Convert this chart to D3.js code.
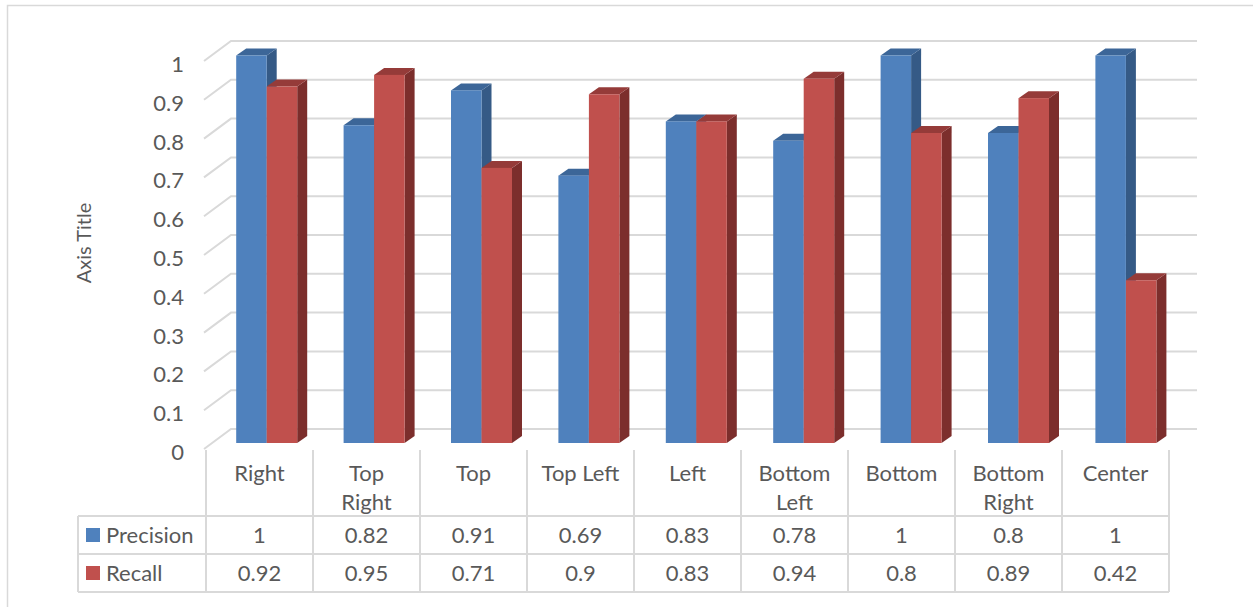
<!DOCTYPE html>
<html>
<head>
<meta charset="utf-8">
<script src="https://cdn.jsdelivr.net/npm/d3@7"></script>
<style>
  html, body { margin: 0; padding: 0; background: #ffffff; }
  svg { display: block; font-family: Lato, "Open Sans", sans-serif; }
</style>
</head>
<body>
<svg id="chart" width="1253" height="607"></svg>
<script>
// Category names (table header rows) and the two measured series
const categories = ["Right", "Top Right", "Top", "Top Left", "Left", "Bottom Left", "Bottom", "Bottom Right", "Center"];
const categoryLines = [["Right"], ["Top", "Right"], ["Top"], ["Top Left"], ["Left"], ["Bottom", "Left"], ["Bottom"], ["Bottom", "Right"], ["Center"]];
const precision = [1, 0.82, 0.91, 0.69, 0.83, 0.78, 1, 0.8, 1];
const recall = [0.92, 0.95, 0.71, 0.9, 0.83, 0.94, 0.8, 0.89, 0.42];
const precisionLabels = ["1", "0.82", "0.91", "0.69", "0.83", "0.78", "1", "0.8", "1"];
const recallLabels = ["0.92", "0.95", "0.71", "0.9", "0.83", "0.94", "0.8", "0.89", "0.42"];
const seriesNames = ["Precision", "Recall"];
const yTicks = [0, 0.1, 0.2, 0.3, 0.4, 0.5, 0.6, 0.7, 0.8, 0.9, 1];
const yTickLabels = ["0", "0.1", "0.2", "0.3", "0.4", "0.5", "0.6", "0.7", "0.8", "0.9", "1"];
const axisTitle = "Axis Title";

const textColor = "#595959";
const lineColor = "#D9D9D9";
const faces = {
  Precision: { front: "#4F81BD", top: "#3C6698", side: "#355A86" },
  Recall:    { front: "#C0504D", top: "#953B39", side: "#7C2E2C" }
};

const svg = d3.select("#chart");

// Chart area border (left and top edges visible)
svg.append("path")
  .attr("d", "M7.5,607 L7.5,5.5 L1253,5.5")
  .attr("fill", "none").attr("stroke", lineColor).attr("stroke-width", 1.5);

// Scales: back wall, bar front plane, and table columns
const yBack = d3.scaleLinear().domain([0, 1]).range([429, 41]);
const yBar = d3.scaleLinear().domain([0, 1]).range([443, 55.5]);
const xBar = d3.scaleBand().domain(categories).range([213, 1179.6]);
const xTable = d3.scaleBand().domain(categories).range([206, 1169]);
const depthX = 10, depthY = -7;   // bar depth projection
const wallX0 = 204, wallX1 = 231, wallX2 = 1197, wallDY = 20;

// Gridlines: side-wall diagonal plus back-wall horizontal
const grid = svg.append("g");
yTicks.forEach(v => {
  const yb = yBack(v);
  grid.append("path")
    .attr("d", `M${wallX0},${yb + wallDY} L${wallX1},${yb} L${wallX2},${yb}`)
    .attr("fill", "none").attr("stroke", lineColor).attr("stroke-width", 2);
});

// Tick labels on the front edge of the side wall
svg.append("g").selectAll("text").data(yTicks).join("text")
  .attr("x", 184)
  .attr("y", (d) => yBack(d) + wallDY + 11)
  .attr("text-anchor", "end")
  .attr("font-size", 22)
  .attr("fill", textColor)
  .text((d, i) => yTickLabels[i]);

// Axis title
svg.append("text")
  .attr("transform", "translate(91,243) rotate(-90)")
  .attr("text-anchor", "middle")
  .attr("font-size", 20)
  .attr("fill", textColor)
  .text(axisTitle);

// 3D columns: front, top and right side faces
const bw = 30.5;
const bars = svg.append("g");
function drawBar(x0, v, f) {
  const x1 = x0 + bw, yt = yBar(v), y0 = yBar(0);
  bars.append("path")
    .attr("d", `M${x1},${yt} L${x1 + depthX},${yt + depthY} L${x1 + depthX},${y0 + depthY} L${x1},${y0} Z`)
    .attr("fill", f.side);
  bars.append("path")
    .attr("d", `M${x0},${yt} L${x0 + depthX},${yt + depthY} L${x1 + depthX},${yt + depthY} L${x1},${yt} Z`)
    .attr("fill", f.top);
  bars.append("rect")
    .attr("x", x0).attr("y", yt).attr("width", bw).attr("height", y0 - yt)
    .attr("fill", f.front);
}
categories.forEach((c, i) => {
  const mid = xBar(c) + xBar.bandwidth() / 2;
  drawBar(mid - bw, precision[i], faces.Precision);
  drawBar(mid, recall[i], faces.Recall);
});

// Data table
const table = svg.append("g").attr("stroke", lineColor).attr("stroke-width", 2).attr("fill", "none");
const rowTop = 450, row1 = 516, row2 = 554, row3 = 592, legendLeft = 78;
[row1, row2, row3].forEach(y => {
  table.append("line").attr("x1", legendLeft).attr("x2", 1169).attr("y1", y).attr("y2", y);
});
table.append("line").attr("x1", legendLeft).attr("x2", legendLeft).attr("y1", row1).attr("y2", row3);
categories.concat([null]).forEach((c, i) => {
  const x = c === null ? 1169 : xTable(c);
  table.append("line").attr("x1", x).attr("x2", x).attr("y1", rowTop).attr("y2", row3);
});

const txt = svg.append("g").attr("fill", textColor).attr("font-size", 22).attr("text-anchor", "middle");
categories.forEach((c, i) => {
  const cx = xTable(c) + xTable.bandwidth() / 2;
  categoryLines[i].forEach((line, k) => {
    txt.append("text").attr("x", cx).attr("y", 481 + k * 28.5).text(line);
  });
  txt.append("text").attr("x", cx).attr("y", 542.5).text(precisionLabels[i]);
  txt.append("text").attr("x", cx).attr("y", 580.5).text(recallLabels[i]);
});

// Legend keys inside the table
const legendRows = [542.5, 580.5];
seriesNames.forEach((name, i) => {
  svg.append("rect")
    .attr("x", 86).attr("y", legendRows[i] - 14.5).attr("width", 14).attr("height", 14)
    .attr("fill", faces[name].front);
  svg.append("text")
    .attr("x", 106).attr("y", legendRows[i])
    .attr("font-size", 22).attr("fill", textColor)
    .text(name);
});
</script>
</body>
</html>
